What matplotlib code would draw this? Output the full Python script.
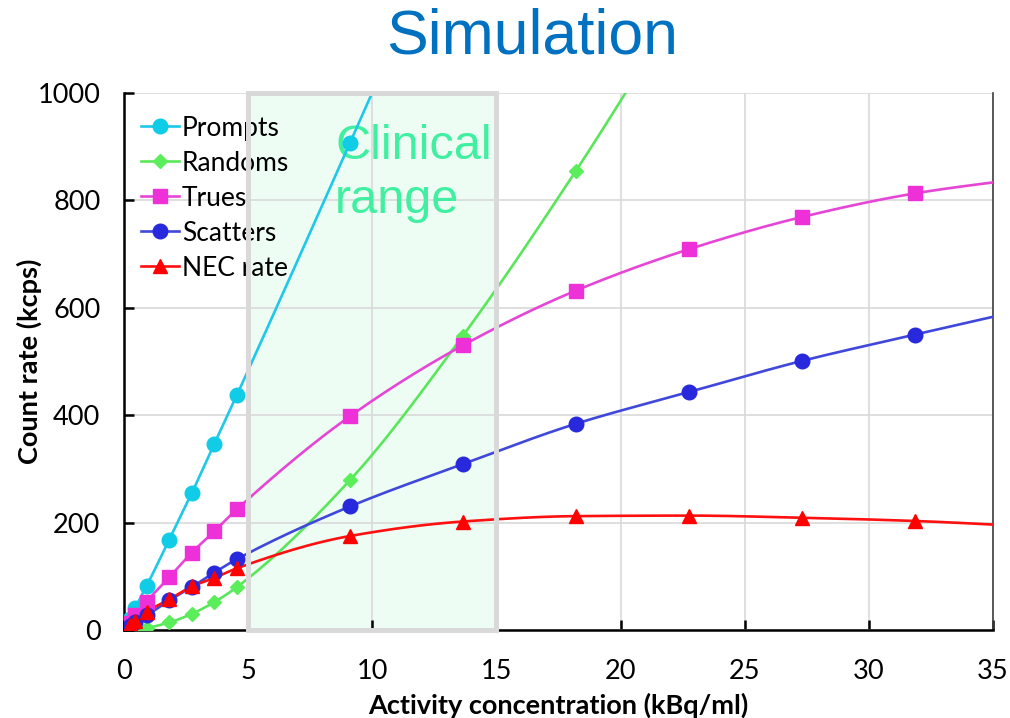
import matplotlib
matplotlib.use("Agg")
import matplotlib.pyplot as plt
import numpy as np
from matplotlib.patches import Rectangle

# Activity concentration (kBq/ml)
activity = [0.23, 0.45, 0.91, 1.82, 2.73, 3.64, 4.55, 9.1, 13.65, 18.2, 22.75, 27.3, 31.85, 36.4]

# Count rates (kcps)
prompts = [20, 41, 82, 168, 255, 347, 438, 907, 1385]
randoms = [0.5, 1.5, 4, 14, 30, 52, 80, 279, 548, 855, 1190]
trues = [13, 27, 53, 98, 144, 184, 225, 398, 530, 632, 709, 769, 813, 842]
scatters = [7, 14, 27, 55, 80, 107, 132, 230, 309, 384, 443, 501, 550, 598]
nec = [8.5, 17.5, 34, 57, 81, 97, 115, 175, 202, 212, 213, 209, 203, 193]


def smooth(x, y, n=40):
    """Monotone cubic (Fritsch-Carlson) curve through the points."""
    x = np.asarray(x, float)
    y = np.asarray(y, float)
    h = np.diff(x)
    d = np.diff(y) / h
    m = np.zeros_like(y)
    m[0], m[-1] = d[0], d[-1]
    for k in range(1, len(x) - 1):
        if d[k - 1] * d[k] <= 0:
            m[k] = 0
        else:
            w1 = 2 * h[k] + h[k - 1]
            w2 = h[k] + 2 * h[k - 1]
            m[k] = (w1 + w2) / (w1 / d[k - 1] + w2 / d[k])
    xs, ys = [], []
    for k in range(len(x) - 1):
        t = np.linspace(0, 1, n)
        h00 = 2 * t**3 - 3 * t**2 + 1
        h10 = t**3 - 2 * t**2 + t
        h01 = -2 * t**3 + 3 * t**2
        h11 = t**3 - t**2
        xs.append(x[k] + t * h[k])
        ys.append(h00 * y[k] + h10 * h[k] * m[k] + h01 * y[k + 1] + h11 * h[k] * m[k + 1])
    return np.concatenate(xs), np.concatenate(ys)


series = [
    ("Prompts", prompts, "#1ec8e6", "#10cce6", "o", 10.5),
    ("Randoms", randoms, "#5ae65a", "#5aee5a", "D", 7.5),
    ("Trues", trues, "#e646d6", "#ee30d8", "s", 9.5),
    ("Scatters", scatters, "#4048dc", "#2828dc", "o", 10.5),
    ("NEC rate", nec, "#ff1010", "#ff0000", "^", 10),
]

fig = plt.figure(figsize=(10.1, 7.18), dpi=100)
ax = fig.add_axes([0.1228, 0.1226, 0.8604, 0.7479])

base_font = "Lato"

for name, vals, lcol, mcol, mk, ms in series:
    xv = activity[:len(vals)]
    sx, sy = smooth(xv, vals)
    ax.plot(sx, sy, color=lcol, lw=1.9, zorder=3)
    ax.plot(xv, vals, linestyle="none", marker=mk, ms=ms, color=mcol,
            mec=mcol, zorder=4)
    # proxy handle for the legend
    ax.plot([], [], color=lcol, lw=1.9, marker=mk, ms=ms, mfc=mcol, mec=mcol,
            label=name)

# clinical range band
ax.add_patch(Rectangle((5, 0), 10, 1000, facecolor="#eefdf4", edgecolor="none",
                       zorder=0.3))
ax.add_patch(Rectangle((5, 0), 10, 1000, facecolor="none", edgecolor="#d9d9d9",
                       lw=3.6, zorder=6, clip_on=False))
ax.text(8.5, 942, "Clinical\nrange", color="#40f0a0", fontsize=35,
        family="Liberation Sans", va="top", ha="left", linespacing=1.25,
        zorder=1.5)

ax.set_xlim(0, 35)
ax.set_ylim(0, 1000)
ax.set_xticks(np.arange(0, 36, 5))
ax.set_yticks(np.arange(0, 1001, 200))
ax.set_axisbelow(True)
ax.grid(True, color="#d9d9d9", lw=1.2)

ax.tick_params(direction="in", length=7, width=1.8, labelsize=19.5, color="black")
ax.tick_params(axis="x", pad=21)
ax.tick_params(axis="y", pad=17)
for lab in ax.get_xticklabels() + ax.get_yticklabels():
    lab.set_family(base_font)

for side in ("left", "bottom"):
    ax.spines[side].set_linewidth(1.8)
    ax.spines[side].set_color("black")
ax.spines["top"].set_visible(False)
ax.spines["right"].set_color("#404040")
ax.spines["right"].set_linewidth(1.2)

ax.set_xlabel("Activity concentration (kBq/ml)", fontsize=19.5, fontweight="bold",
              family=base_font, labelpad=6)
ax.set_ylabel("Count rate (kcps)", fontsize=19.5, fontweight="bold",
              family=base_font, labelpad=-3)

leg = ax.legend(loc="upper left", frameon=False,
                prop={"family": base_font, "size": 19},
                handlelength=1.45, handletextpad=0.1, labelspacing=0.38,
                borderaxespad=0.25, bbox_to_anchor=(0.0, 0.99))
leg.set_zorder(5)

fig.text(0.527, 0.948, "Simulation", color="#0070c0", fontsize=45,
         family="Liberation Sans", ha="center", va="center")

fig.savefig("out.png", dpi=100)
